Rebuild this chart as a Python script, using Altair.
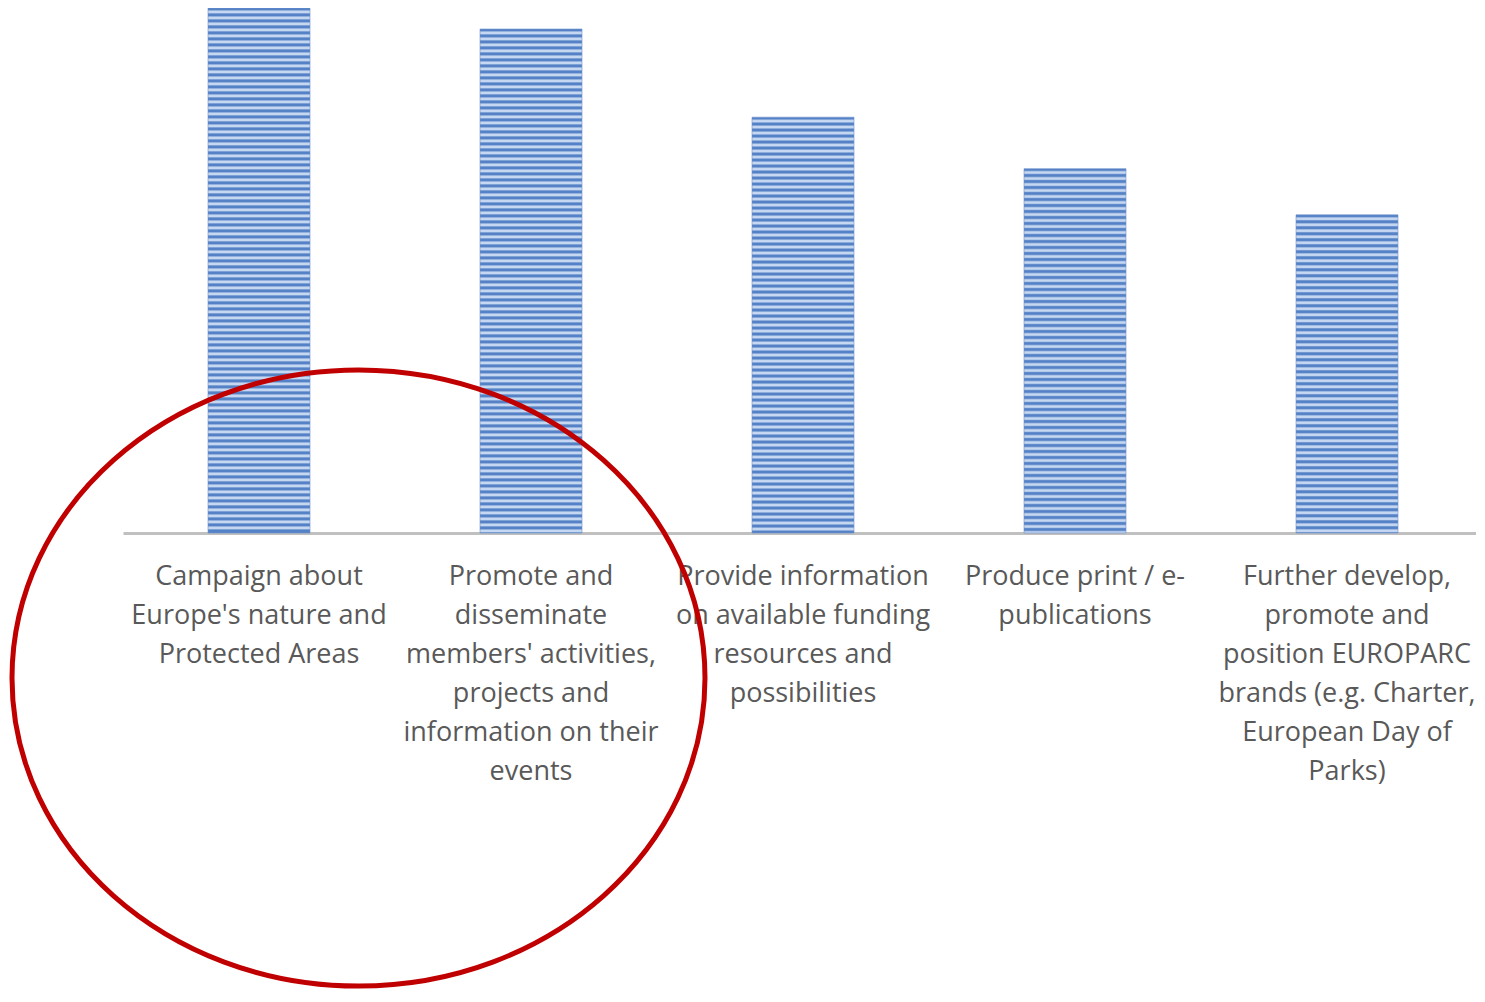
import altair as alt
import pandas as pd

# ---- data ----
categories = [
    "Campaign about|Europe's nature and|Protected Areas",
    "Promote and|disseminate|members' activities,|projects and|information on their|events",
    "Provide information|on available funding|resources and|possibilities",
    "Produce print / e-|publications",
    "Further develop,|promote and|position EUROPARC|brands (e.g. Charter,|European Day of|Parks)",
]
values = [50, 48, 39.6, 34.7, 30.3]

df = pd.DataFrame({"cat": categories, "val": values})

PLOT_W = 1360
PLOT_H = 525
Y_MAX = 50

DARK = "#5582c6"
LIGHT = "#c6d7f1"


def stripes(bar_px, period=6.0):
    stops = []
    n = int(bar_px // period) + 1
    for i in range(n):
        base = i * period
        for off, col in ((0.0, DARK), (1.6, DARK), (3.2, LIGHT), (4.6, LIGHT)):
            o = (base + off) / bar_px
            if o <= 1:
                stops.append(alt.GradientStop(offset=o, color=col))
    return alt.LinearGradient(gradient="linear", x1=0, y1=0, x2=0, y2=1, stops=stops)


x_enc = alt.X(
    "cat:N",
    sort=categories,
    scale=alt.Scale(paddingInner=0.625, paddingOuter=0.3125),
    axis=alt.Axis(
        title=None,
        ticks=False,
        tickSize=0,
        grid=False,
        domainColor="#c0c0c0",
        domainWidth=3,
        labelAngle=0,
        labelAlign="center",
        labelBaseline="top",
        labelFont="Open Sans",
        labelFontSize=27,
        labelColor="#595959",
        labelLineHeight=39,
        labelPadding=30,
        labelLimit=1000,
        labelExpr="split(datum.label, '|')",
    ),
)
y_enc = alt.Y("val:Q", scale=alt.Scale(domain=[0, Y_MAX], nice=False, zero=True), axis=None)

layers = []
for c, v in zip(categories, values):
    px = v / Y_MAX * PLOT_H
    layers.append(
        alt.Chart(df)
        .transform_filter(alt.datum.cat == c)
        .mark_bar(color=stripes(px), stroke="#6a92cf", strokeWidth=1, strokeOpacity=0.6)
        .encode(x=x_enc, y=y_enc)
    )

k = 0.5523
r = 0.889
ellipse_path = (
    f"M -1 0 C -1 {-k*r:.4f} {-k:.4f} {-r} 0 {-r} "
    f"C {k:.4f} {-r} 1 {-k*r:.4f} 1 0 "
    f"C 1 {k*r:.4f} {k:.4f} {r} 0 {r} "
    f"C {-k:.4f} {r} -1 {k*r:.4f} -1 0 Z"
)

ellipse = (
    alt.Chart(pd.DataFrame({"a": [0]}))
    .mark_point(
        shape=ellipse_path,
        filled=False,
        stroke="#c00000",
        strokeWidth=5,
        opacity=1,
        size=693 ** 2,
    )
    .encode(x=alt.value(235.5), y=alt.value(670))
)

chart = (
    alt.layer(*layers, ellipse)
    .properties(
        width=PLOT_W,
        height=PLOT_H,
        padding={"left": 115, "top": 0, "right": -7, "bottom": 457},
        autosize=alt.AutoSizeParams(type="none"),
        background="white",
    )
    .configure_view(strokeWidth=0, stroke="transparent")
)

chart.save("out.html", embed_options={"renderer": "svg", "actions": False})
